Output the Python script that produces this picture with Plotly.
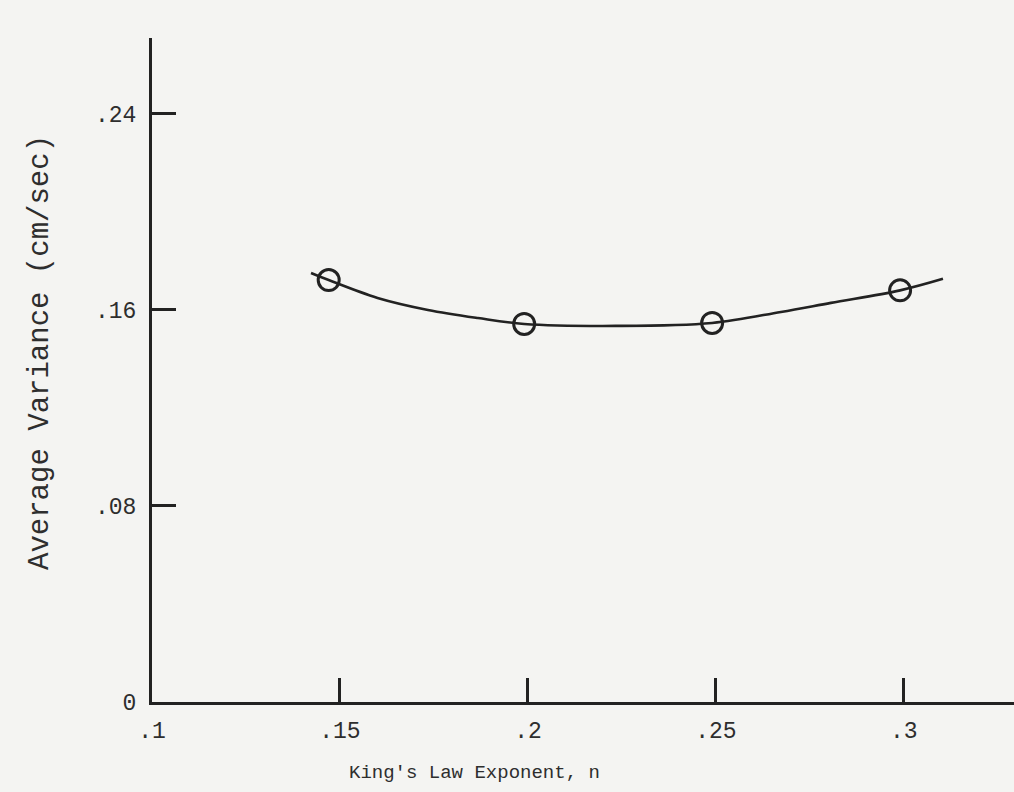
import plotly.graph_objects as go

# Measured points (King's law exponent vs average variance)
point_n = [0.147, 0.199, 0.249, 0.299]
point_var = [0.1722, 0.1543, 0.1547, 0.1680]

# Hand-drawn smooth curve through the points
curve_n = [0.1423, 0.147, 0.160, 0.1734, 0.1867, 0.199, 0.2234, 0.249, 0.2673, 0.2806, 0.299, 0.3104]
curve_var = [0.1751, 0.1722, 0.1649, 0.1600, 0.1567, 0.1543, 0.1535, 0.1547, 0.1592, 0.1629, 0.1680, 0.1727]

x_ticks = [0.1, 0.15, 0.2, 0.25, 0.3]
x_tick_labels = [".1", ".15", ".2", ".25", ".3"]
y_ticks = [0, 0.08, 0.16, 0.24]
y_tick_labels = ["0", ".08", ".16", ".24"]

ink = "#222222"
txt = "#2e2e2e"
bg = "#f4f4f2"

fig = go.Figure()
fig.add_trace(go.Scatter(
    x=curve_n, y=curve_var, mode="lines",
    line=dict(color=ink, width=2.6, shape="spline", smoothing=1.0),
    hoverinfo="skip", showlegend=False,
))
fig.add_trace(go.Scatter(
    x=point_n, y=point_var, mode="markers",
    marker=dict(symbol="circle-open", size=21, color=ink, line=dict(width=3, color=ink)),
    showlegend=False,
))

tick_font = dict(family="Liberation Mono", size=23, color=txt)

fig.update_layout(
    width=1014, height=792,
    margin=dict(l=152, r=0, t=38, b=90),
    paper_bgcolor=bg, plot_bgcolor=bg,
    xaxis=dict(
        range=[0.1, 0.3293], showgrid=False, zeroline=False,
        showline=True, linecolor=ink, linewidth=3,
        ticks="inside", ticklen=24, tickwidth=2.5, tickcolor=ink,
        tickvals=x_ticks, ticktext=x_tick_labels, tickfont=tick_font,
        ticklabelstandoff=5,
    ),
    yaxis=dict(
        range=[0, 0.271], showgrid=False, zeroline=False,
        showline=True, linecolor=ink, linewidth=3,
        ticks="inside", ticklen=24, tickwidth=2.5, tickcolor=ink,
        tickvals=y_ticks, ticktext=y_tick_labels, tickfont=tick_font,
        ticklabelstandoff=8,
    ),
    annotations=[
        dict(text="King's Law Exponent, n", xref="paper", yref="paper",
             x=(474 - 152) / 862, y=-(773 - 702) / 664, xanchor="center", yanchor="middle",
             showarrow=False, font=dict(family="Liberation Mono", size=19, color=txt)),
        dict(text="Average Variance (cm/sec)", xref="paper", yref="paper",
             x=-(152 - 40) / 862, y=(702 - 353) / 664, xanchor="center", yanchor="middle",
             textangle=-90, showarrow=False,
             font=dict(family="Liberation Mono", size=29, color=txt)),
    ],
)

fig.write_html(
    "out.html",
    config={"displayModeBar": False},
    post_script="document.body.style.margin='0';document.body.style.background='#f4f4f2';",
)
